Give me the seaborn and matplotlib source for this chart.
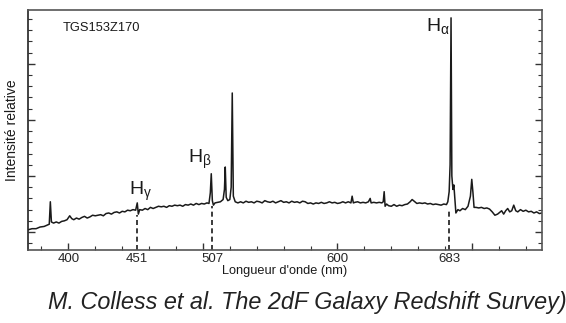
import matplotlib
matplotlib.use("Agg")
import matplotlib.pyplot as plt
import seaborn as sns
import pandas as pd
import numpy as np

sns.set_style("white")
plt.rcParams['font.family'] = ['Liberation Sans', 'DejaVu Sans']
plt.rcParams['mathtext.fontset'] = 'custom'
plt.rcParams['mathtext.rm'] = 'Liberation Sans'
plt.rcParams['mathtext.it'] = 'Liberation Sans:italic'

# Spectrum (wavelength in nm, relative intensity, arbitrary units)
wavelength = [
    370.0, 373, 376, 379, 382, 384, 385.8, 386.6, 387.4, 389, 391, 393, 395, 397, 399,
    401, 402.5, 404, 406, 408, 410, 412, 414, 416, 418, 420, 422, 424, 426, 428, 430,
    432, 434, 436, 438, 440, 442, 444, 446, 448, 450, 451.2, 452, 453, 455, 457, 459,
    461, 463, 465, 467, 469, 471, 473, 475, 477, 479, 481, 483, 485, 487, 489, 491,
    493, 495, 497, 499, 501, 503, 504.5, 505.5, 506.2, 507, 507.8, 509, 511, 513, 515,
    516, 516.6, 517.3, 518.5, 520, 521, 521.8, 522.6, 524, 526, 528, 530, 532, 534,
    536, 538, 540, 542, 544, 546, 548, 550, 552, 554, 556, 558, 560, 562, 564, 566,
    568, 570, 572, 574, 576, 578, 580, 582, 584, 586, 588, 590, 592, 594, 596, 598,
    600, 602, 604, 606, 608, 610, 610.9, 611.8, 613, 615, 617, 619, 621, 623, 624.3,
    625, 627, 629, 631, 633, 634, 634.7, 635.4, 636.5, 638, 640, 642, 644, 646, 648,
    650, 652, 654, 655.5, 657, 659, 661, 663, 665, 667, 669, 671, 673, 675, 677, 679,
    681, 682, 683, 683.7, 684.4, 685, 685.8, 686.5, 687.2, 688, 689.5, 691, 693, 695,
    697, 698.8, 699.8, 700.7, 701.5, 703, 705, 707, 709, 711, 713, 715, 717, 719,
    720.5, 722, 723.5, 725, 726.5, 728, 729.5, 731, 732.5, 734, 736, 738, 740, 742,
    744, 746, 748, 750, 752,
]
intensity = [
    0.2, 0.3, 0.3, 0.45, 0.5, 0.6, 0.7, 2.7, 0.9, 0.8, 0.9, 0.8, 0.95, 1.0, 1.1,
    1.45, 1.2, 1.1, 1.25, 1.15, 1.3, 1.4, 1.25, 1.35, 1.5, 1.45, 1.5, 1.55, 1.45, 1.65, 1.7,
    1.6, 1.75, 1.8, 1.7, 1.85, 1.8, 1.95, 1.9, 2.0, 1.95, 2.6, 1.6, 2.0, 1.95, 2.1, 2.0,
    2.2, 2.1, 2.2, 2.3, 2.25, 2.3, 2.2, 2.35, 2.3, 2.4, 2.35, 2.4, 2.3, 2.45, 2.4, 2.5,
    2.4, 2.55, 2.45, 2.55, 2.5, 2.6, 2.55, 3.5, 5.2, 2.8, 2.4, 2.6, 2.65, 2.7, 2.9,
    3.8, 5.8, 3.1, 2.8, 2.9, 4.0, 12.4, 3.2, 2.7, 2.6, 2.7, 2.6, 2.75, 2.65,
    2.7, 2.6, 2.75, 2.7, 2.6, 2.8, 2.7, 2.65, 2.75, 2.6, 2.7, 2.8, 2.65, 2.7, 2.6, 2.75,
    2.65, 2.7, 2.6, 2.75, 2.7, 2.55, 2.6, 2.5, 2.6, 2.55, 2.65, 2.55, 2.6, 2.7, 2.6, 2.65,
    2.55, 2.6, 2.7, 2.6, 2.7, 2.6, 3.2, 2.6, 2.65, 2.7, 2.6, 2.65, 2.6, 2.7, 3.0,
    2.6, 2.65, 2.6, 2.65, 2.6, 2.7, 3.6, 2.3, 2.5, 2.35, 2.3, 2.45, 2.3, 2.4, 2.35,
    2.45, 2.5, 2.7, 2.9, 2.75, 2.55, 2.6, 2.55, 2.6, 2.5, 2.55, 2.45, 2.5, 2.45, 2.4, 2.5,
    2.45, 2.7, 3.6, 6.0, 19.1, 5.0, 3.8, 4.2, 3.0, 1.7, 2.0, 1.9, 2.1, 2.0,
    2.3, 3.2, 4.7, 3.5, 2.2, 2.2, 2.15, 2.2, 2.1, 2.15, 2.05, 1.8, 1.5, 1.6,
    1.75, 1.9, 1.6, 1.9, 2.1, 1.8, 1.9, 2.4, 1.9, 1.8, 2.0, 1.85, 1.95, 1.8,
    1.85, 1.7, 1.8, 1.65, 1.7,
]

# Marked lines
line_wavelengths = [451, 507, 683]
line_tops = [1.5, 2.3, 1.9]
line_labels = [r'H$_\mathrm{\gamma}$', r'H$_\mathrm{\beta}$', r'H$_\mathrm{\alpha}$']
label_pos = [(445, 3.6), (489, 6.5), (666, 18.4)]

tick_values = [400, 451, 500, 507, 600, 683, 700]
tick_labels = ['400', '451', '', '507', '600', '683', '']

df = pd.DataFrame({'wl': wavelength, 'I': intensity})

fig = plt.figure(figsize=(5.66, 3.23), dpi=100)
ax = fig.add_axes([28/566, 73/323, 514/566, 240/323])

sns.lineplot(data=df, x='wl', y='I', ax=ax, color='#1a1a1a', lw=1.1, sort=False)

for w, t in zip(line_wavelengths, line_tops):
    ax.plot([w, w], [-1.6, t], color='#1a1a1a', lw=1.2, ls=(0, (3, 2)))

for lab, (x, y) in zip(line_labels, label_pos):
    ax.text(x, y, lab, fontsize=14, ha='left', va='center', color='#1a1a1a')

ax.text(396, 18.2, 'TGS153Z170', fontsize=9.3, ha='left', va='center', color='#1a1a1a')

ax.set_xlim(370, 752)
ax.set_ylim(-1.6, 19.8)

ax.set_xticks(tick_values)
ax.set_xticklabels(tick_labels, fontsize=9.5)
ax.set_xticks([v for v in range(380, 750, 20) if v not in (400, 500, 600, 700)], minor=True)
ax.set_yticks([0, 5, 10, 15])
ax.set_yticklabels([])
ax.set_yticks(list(range(-1, 20)), minor=True)

ax.tick_params(axis='both', which='major', direction='in', length=5, width=1, color='#333333',
               left=True, right=True, bottom=True, top=False, labelleft=False, pad=2)
ax.tick_params(axis='both', which='minor', direction='in', length=3, width=0.8, color='#333333',
               left=True, right=True, bottom=True, top=False)
for i, v in enumerate(tick_values):
    if v in line_wavelengths:
        ax.xaxis.get_major_ticks()[i].tick1line.set_visible(False)

for s in ax.spines.values():
    s.set_color('#555555')
    s.set_linewidth(1.2)
ax.spines['left'].set_color('#222222')

ax.set_xlabel("Longueur d'onde (nm)", fontsize=9.2, labelpad=0, color='#1a1a1a')
ax.set_ylabel('Intensité relative', fontsize=10, labelpad=3, color='#1a1a1a')

fig.text(48/566, 1 - 303/323, 'M. Colless et al. The 2dF Galaxy Redshift Survey)',
         fontsize=16.8, style='italic', ha='left', va='center', color='#222222')

fig.savefig('out.png', dpi=100)
